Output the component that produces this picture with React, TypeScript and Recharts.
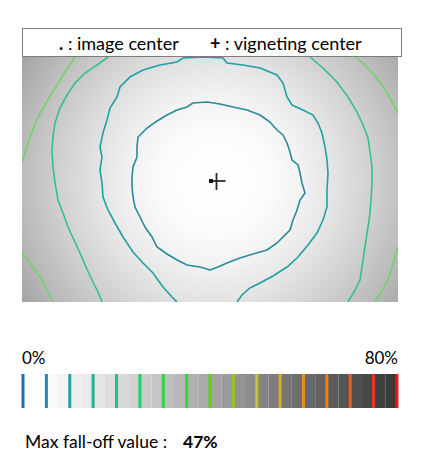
import React from 'react';
import {
  ComposedChart,
  XAxis,
  YAxis,
  Line,
  Scatter,
  ReferenceArea,
  ReferenceLine,
} from 'recharts';

// Frame size in pixels (contour coordinates are expressed in this space)
const FRAME_W = 376;
const FRAME_H = 245;

// Centres of the frame and of the measured vignetting
const imageCenter = [{ x: 189, y: 124 }];
const vignettingCenter = [{ x: 194.5, y: 124 }];

// Iso fall-off contours (x, y in frame pixels, y downwards)
const contour5 = [
  { x: 171, y: 46 }, { x: 185, y: 45 }, { x: 198, y: 47 }, { x: 211, y: 50 }, { x: 225, y: 53 },
  { x: 238, y: 58 }, { x: 248, y: 65 }, { x: 255, y: 73 }, { x: 261, y: 78 }, { x: 265, y: 86 },
  { x: 268, y: 95 }, { x: 270, y: 103 }, { x: 276, y: 108 }, { x: 278, y: 116 }, { x: 280, y: 126 },
  { x: 283, y: 136 }, { x: 278, y: 143 }, { x: 275, y: 153 }, { x: 271, y: 163 }, { x: 268, y: 173 },
  { x: 261, y: 180 }, { x: 255, y: 186 }, { x: 245, y: 193 }, { x: 231, y: 197 }, { x: 218, y: 201 },
  { x: 205, y: 206 }, { x: 196, y: 210 }, { x: 188, y: 213 }, { x: 178, y: 210 }, { x: 165, y: 208 },
  { x: 155, y: 203 }, { x: 145, y: 197 }, { x: 135, y: 190 }, { x: 130, y: 180 }, { x: 123, y: 170 },
  { x: 118, y: 160 }, { x: 113, y: 150 }, { x: 111, y: 140 }, { x: 110, y: 130 }, { x: 110, y: 120 },
  { x: 111, y: 110 }, { x: 115, y: 100 }, { x: 115, y: 90 }, { x: 116, y: 80 }, { x: 125, y: 71 },
  { x: 135, y: 64 }, { x: 145, y: 58 }, { x: 155, y: 53 }, { x: 165, y: 50 }, { x: 171, y: 46 },
];

const contour10 = [
  { x: 155, y: 245 }, { x: 150, y: 240 }, { x: 141, y: 230 }, { x: 131, y: 216 }, { x: 121, y: 206 },
  { x: 111, y: 195 }, { x: 101, y: 180 }, { x: 93, y: 166 }, { x: 86, y: 153 }, { x: 81, y: 140 },
  { x: 80, y: 126 }, { x: 78, y: 113 }, { x: 80, y: 100 }, { x: 78, y: 90 }, { x: 81, y: 76 },
  { x: 85, y: 63 }, { x: 88, y: 51 }, { x: 95, y: 40 }, { x: 98, y: 30 }, { x: 108, y: 20 },
  { x: 121, y: 13 }, { x: 138, y: 8 }, { x: 155, y: 5 }, { x: 161, y: 1 }, { x: 181, y: 0 },
  { x: 201, y: 1 }, { x: 205, y: 6 }, { x: 221, y: 8 }, { x: 238, y: 11 }, { x: 255, y: 18 },
  { x: 261, y: 26 }, { x: 265, y: 40 }, { x: 270, y: 48 }, { x: 281, y: 53 }, { x: 291, y: 58 },
  { x: 296, y: 66 }, { x: 300, y: 76 }, { x: 303, y: 90 }, { x: 305, y: 103 }, { x: 306, y: 116 },
  { x: 305, y: 133 }, { x: 305, y: 150 }, { x: 301, y: 163 }, { x: 295, y: 176 }, { x: 286, y: 188 },
  { x: 276, y: 200 }, { x: 265, y: 210 }, { x: 251, y: 219 }, { x: 238, y: 226 }, { x: 228, y: 231 },
  { x: 220, y: 238 }, { x: 215, y: 245 },
];

const contour15Left = [
  { x: 86, y: 0 }, { x: 75, y: 8 }, { x: 63, y: 16 }, { x: 53, y: 26 }, { x: 45, y: 38 },
  { x: 38, y: 51 }, { x: 33, y: 66 }, { x: 31, y: 80 }, { x: 30, y: 93 }, { x: 31, y: 110 },
  { x: 33, y: 126 }, { x: 36, y: 143 }, { x: 41, y: 156 }, { x: 46, y: 170 }, { x: 52, y: 183 },
  { x: 58, y: 196 }, { x: 64, y: 210 }, { x: 70, y: 223 }, { x: 76, y: 235 }, { x: 80, y: 245 },
];

const contour15Right = [
  { x: 288, y: 0 }, { x: 301, y: 11 }, { x: 315, y: 25 }, { x: 326, y: 40 }, { x: 335, y: 55 },
  { x: 341, y: 68 }, { x: 346, y: 81 }, { x: 348, y: 95 }, { x: 350, y: 110 }, { x: 350, y: 126 },
  { x: 349, y: 143 }, { x: 348, y: 156 }, { x: 346, y: 170 }, { x: 344, y: 183 }, { x: 342, y: 196 },
  { x: 340, y: 210 }, { x: 338, y: 223 }, { x: 332, y: 235 }, { x: 326, y: 245 },
];

const contour20TopLeft = [
  { x: 0, y: 106 }, { x: 4, y: 92 }, { x: 8, y: 80 }, { x: 13, y: 67 }, { x: 18, y: 56 },
  { x: 24, y: 46 }, { x: 30, y: 36 }, { x: 36, y: 27 }, { x: 41, y: 18 }, { x: 47, y: 9 },
  { x: 53, y: 0 },
];

const contour20BottomLeft = [
  { x: 0, y: 196 }, { x: 7, y: 205 }, { x: 14, y: 214 }, { x: 20, y: 223 }, { x: 25, y: 233 },
  { x: 31, y: 245 },
];

const contour20TopRight = [
  { x: 334, y: 0 }, { x: 344, y: 9 }, { x: 354, y: 20 }, { x: 362, y: 31 }, { x: 369, y: 43 },
  { x: 376, y: 56 },
];

const contour20BottomRight = [
  { x: 376, y: 190 }, { x: 371, y: 207 }, { x: 366, y: 223 }, { x: 360, y: 234 }, { x: 353, y: 245 },
];

// Colour scale: fall-off levels (%) with their line colours
const scaleLevels = [0, 5, 10, 15, 20, 25, 30, 35, 40, 45, 50, 55, 60, 65, 70, 75, 80];
const scaleColors = [
  '#1f6fae', '#1c8eb0', '#1ea3a2', '#22b08e', '#22c07c', '#26cf66', '#2bd64a', '#2ed62e',
  '#5fcf22', '#93c822', '#c6c42a', '#d9ac22', '#e4921e', '#ee7d1e', '#ef5e1e', '#ea3520', '#e61a1a',
];
// Grey level for each 2.5 % step of the scale
const scaleGreys = [
  255, 255, 249, 243, 238, 233, 228, 222, 216, 210, 203, 197, 190, 184, 176, 170,
  162, 155, 147, 140, 132, 125, 117, 110, 104, 97, 91, 85, 78, 72, 64, 58,
];
const scaleStep = 2.5;

const maxFallOff = 47;

const grey = (g: number) => `rgb(${g},${g},${g})`;

const FONT = 'Lato, "Open Sans", sans-serif';

const Square = (props: any) => (
  <rect x={props.cx - 2} y={props.cy - 2} width={4} height={4} fill="#111" />
);

const Cross = (props: any) => (
  <g stroke="#2a2a2a" strokeWidth={1.8}>
    <line x1={props.cx - 3.5} y1={props.cy} x2={props.cx + 9} y2={props.cy} />
    <line x1={props.cx} y1={props.cy - 8} x2={props.cx} y2={props.cy + 9} />
  </g>
);

const contourLine = (data: { x: number; y: number }[], color: string, key: string) => (
  <Line
    key={key}
    data={data}
    dataKey="y"
    type="linear"
    stroke={color}
    strokeWidth={1.6}
    dot={false}
    activeDot={false}
    isAnimationActive={false}
  />
);

export default function App() {
  return (
    <div
      style={{
        position: 'absolute',
        left: 0,
        top: 0,
        width: 433,
        height: 475,
        background: '#fff',
        fontFamily: FONT,
        color: '#000',
        lineHeight: 1.2,
      }}
    >
      {/* legend box */}
      <div
        style={{
          position: 'absolute',
          left: 22,
          top: 28,
          width: 380,
          height: 29,
          boxSizing: 'border-box',
          border: '1px solid #7c7c7c',
          background: '#fff',
          fontSize: 18,
        }}
      >
        <span style={{ position: 'absolute', left: 36, top: 4, whiteSpace: 'pre' }}>
          <b>.</b> : image center
        </span>
        <span style={{ position: 'absolute', left: 187, top: 4, whiteSpace: 'pre' }}>
          <b>+</b> : vigneting center
        </span>
      </div>

      {/* fall-off map */}
      <div style={{ position: 'absolute', left: 22, top: 57 }}>
        <ComposedChart width={FRAME_W} height={FRAME_H} margin={{ top: 0, right: 0, bottom: 0, left: 0 }}>
          <defs>
            <radialGradient id="vignette" gradientUnits="userSpaceOnUse" cx={194} cy={124} r={245}>
              <stop offset="0" stopColor="#ffffff" />
              <stop offset="0.2" stopColor="#fcfcfc" />
              <stop offset="0.35" stopColor="#f2f2f2" />
              <stop offset="0.5" stopColor="#e2e2e2" />
              <stop offset="0.65" stopColor="#cfcfcf" />
              <stop offset="0.8" stopColor="#bababa" />
              <stop offset="0.94" stopColor="#a2a2a2" />
              <stop offset="1" stopColor="#9a9a9a" />
            </radialGradient>
          </defs>
          <XAxis type="number" dataKey="x" domain={[0, FRAME_W]} hide allowDataOverflow />
          <YAxis type="number" dataKey="y" domain={[0, FRAME_H]} reversed hide allowDataOverflow />
          <ReferenceArea
            x1={0}
            x2={FRAME_W}
            y1={0}
            y2={FRAME_H}
            fill="url(#vignette)"
            fillOpacity={1}
            stroke="none"
          />
          {contourLine(contour20TopLeft, '#72d26a', 'c20a')}
          {contourLine(contour20BottomLeft, '#72d26a', 'c20b')}
          {contourLine(contour20TopRight, '#72d26a', 'c20c')}
          {contourLine(contour20BottomRight, '#72d26a', 'c20d')}
          {contourLine(contour15Left, '#34c284', 'c15a')}
          {contourLine(contour15Right, '#34c284', 'c15b')}
          {contourLine(contour10, '#21a0a0', 'c10')}
          {contourLine(contour5, '#2a8a9a', 'c5')}
          <Scatter data={vignettingCenter} dataKey="y" shape={Cross} isAnimationActive={false} />
          <Scatter data={imageCenter} dataKey="y" shape={Square} isAnimationActive={false} />
        </ComposedChart>
      </div>

      {/* colour scale */}
      <div style={{ position: 'absolute', left: 22, top: 348, fontSize: 17 }}>0%</div>
      <div style={{ position: 'absolute', right: 433 - 398, top: 348, fontSize: 17 }}>80%</div>
      <div style={{ position: 'absolute', left: 21, top: 374 }}>
        <ComposedChart width={378} height={34} margin={{ top: 0, right: 2, bottom: 0, left: 2 }}>
          <XAxis type="number" dataKey="x" domain={[0, 80]} hide allowDataOverflow />
          <YAxis type="number" domain={[0, 1]} hide allowDataOverflow />
          {scaleGreys.map((g, i) => (
            <ReferenceArea
              key={`g${i}`}
              x1={i * scaleStep}
              x2={(i + 1) * scaleStep}
              y1={0}
              y2={1}
              fill={grey(g)}
              fillOpacity={1}
              stroke="none"
            />
          ))}
          {scaleLevels.map((lv, i) => (
            <ReferenceLine key={`l${i}`} x={lv} stroke={scaleColors[i]} strokeWidth={3} />
          ))}
        </ComposedChart>
      </div>

      {/* summary */}
      <div style={{ position: 'absolute', left: 25, top: 431, fontSize: 17.5, whiteSpace: 'pre' }}>
        Max fall-off value :
      </div>
      <div style={{ position: 'absolute', left: 183, top: 431, fontSize: 17.5, fontWeight: 700 }}>
        {maxFallOff}%
      </div>
    </div>
  );
}
